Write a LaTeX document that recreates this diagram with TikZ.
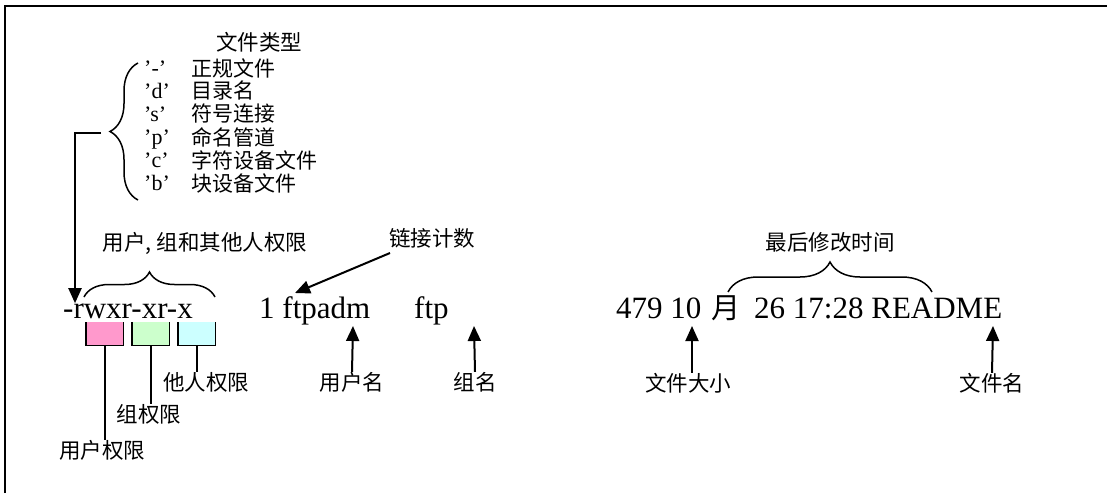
\documentclass[tikz,border=0pt]{standalone}
\usepackage{fontspec}
\setmainfont{Liberation Serif}
\newfontfamily\cjk{Noto Sans CJK SC}
\usetikzlibrary{arrows.meta,decorations.pathreplacing}
\definecolor{upink}{HTML}{FF99CC}
\definecolor{ugreen}{HTML}{CCFFCC}
\definecolor{ucyan}{HTML}{CCFFFF}
\begin{document}
\begin{tikzpicture}[x=1pt,y=-1pt,
  lab/.style={font=\cjk\fontsize{21.5}{23}\selectfont, inner sep=0pt},
  lst/.style={font=\cjk\fontsize{21}{23}\selectfont, inner sep=0pt, anchor=west},
  qt/.style={font=\fontsize{22}{24}\selectfont, inner sep=0pt, anchor=base west},
  big/.style={font=\fontsize{31}{33}\selectfont, inner sep=0pt, anchor=base west},
  bigc/.style={font=\cjk\fontsize{29}{31}\selectfont, inner sep=0pt, anchor=base west},
  arr/.style={line width=2pt, -{Triangle[width=13pt,length=15pt]}},
  stem/.style={line width=2pt},
  brc/.style={line width=1.5pt, decorate, decoration={brace, amplitude=#1}},
  pbox/.style={fill=#1, minimum width=37pt, minimum height=23pt, inner sep=0pt},
]
\useasboundingbox (0,0) rectangle (1107,493);
\draw[line width=2.5pt] (5,493) -- (5,6) -- (1107,6);

% file type list
\node[lab] (ft) at (259,42) {文件类型};
\node[qt] (q1) at (144,75) {’-’};  \node[lst] (t1) at (191,68) {正规文件};
\node[qt] (q2) at (144,98) {’d’};  \node[lst] (t2) at (191,91) {目录名};
\node[qt] (q3) at (144,121) {’s’}; \node[lst] (t3) at (191,114) {符号连接};
\node[qt] (q4) at (144,144) {’p’}; \node[lst] (t4) at (191,137) {命名管道};
\node[qt] (q5) at (144,167) {’c’}; \node[lst] (t5) at (191,160) {字符设备文件};
\node[qt] (q6) at (144,190) {’b’}; \node[lst] (t6) at (191,183) {块设备文件};
\coordinate (lb) at (138,200);
\coordinate (lt) at (138,63);
\draw[brc=28pt] (lb) -- (lt);
\coordinate (btip) at (101,133);
\coordinate (bend) at (75,133);

% main line
\node[big] (perm) at (63,318) {-rwxr-xr-x};
\node[big] (usr) at (259,318) {1 ftpadm};
\node[big] (grp) at (414,318) {ftp};
\node[big] (size) at (616,318) {479 10};
\node[bigc] (mon) at (711,318) {月};
\node[big] (rest) at (754,318) {26 17:28 README};

\draw[arr] (btip) -- (bend) -- (bend |- perm.north);

% permission brace
\coordinate (pb1) at (84,297);
\coordinate (pb2) at (215,297);
\draw[brc=25pt] (pb1) -- (pb2);
\node[lab] (ugo) at (205,243) {用户, 组和其他人权限};

% colored boxes
\node[pbox=upink, anchor=north west] (b1) at (86,322) {};
\node[pbox=ugreen, anchor=north west] (b2) at (132,322) {};
\node[pbox=ucyan, anchor=north west] (b3) at (178,322) {};
\foreach \b in {b1,b2,b3}
  \draw[line width=1.6pt] (\b.north west) -- (\b.south west) -- (\b.south east) -- (\b.north east);
\node[lab] (l1) at (102,450) {用户权限};
\node[lab] (l2) at (149,414) {组权限};
\node[lab] (l3) at (206,382) {他人权限};
\draw[stem] (b1.south) -- (b1.south |- l1.north);
\draw[stem] (b2.south) -- (b2.south |- l2.north);
\draw[stem] (b3.south) -- (b3.south |- l3.north);

% link count
\node[lab] (lk) at (432,238) {链接计数};
\coordinate (lks) at (390,253);
\coordinate (lkt) at (295,293);
\draw[arr] (lks) -- (lkt);

% user / group
\node[lab] (un) at (352,382) {用户名};
\node[lab] (gn) at (475,382) {组名};
\coordinate (unt) at (353,326);
\coordinate (gnt) at (474,326);
\draw[arr] (un.north) -- (unt);
\draw[arr] (gn.north) -- (gnt);

% time brace
\coordinate (tb1) at (728,292);
\coordinate (tb2) at (932,292);
\draw[brc=30pt] (tb1) -- (tb2);
\node[lab] (tm) at (830,242) {最后修改时间};

% size / name
\node[lab] (sz) at (688,383) {文件大小};
\node[lab] (fn) at (992,383) {文件名};
\coordinate (szt) at (692,326);
\coordinate (fnt) at (993,326);
\draw[arr] (sz.north -| szt) -- (szt);
\draw[arr] (fn.north) -- (fnt);
\end{tikzpicture}
\end{document}
